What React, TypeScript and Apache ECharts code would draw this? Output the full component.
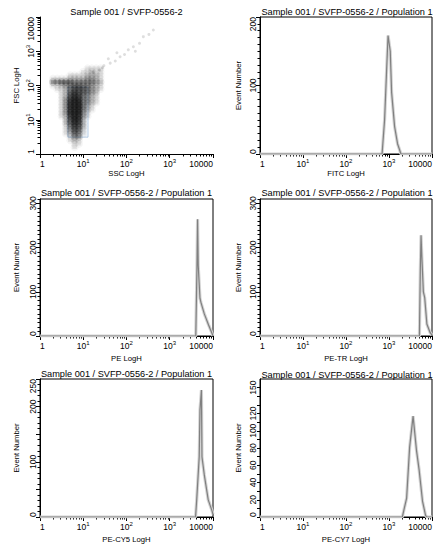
import React, { useEffect, useRef } from 'react';
import * as echarts from 'echarts';

const FONT = "'Liberation Sans', Arial, Helvetica, sans-serif";

const titles = [
  'Sample 001 / SVFP-0556-2',
  'Sample 001 / SVFP-0556-2 / Population 1',
  'Sample 001 / SVFP-0556-2 / Population 1',
  'Sample 001 / SVFP-0556-2 / Population 1',
  'Sample 001 / SVFP-0556-2 / Population 1',
  'Sample 001 / SVFP-0556-2 / Population 1',
];
const xNames = ['SSC LogH', 'FITC LogH', 'PE LogH', 'PE-TR LogH', 'PE-CY5 LogH', 'PE-CY7 LogH'];
const yNames = ['FSC LogH', 'Event Number', 'Event Number', 'Event Number', 'Event Number', 'Event Number'];

const minorLogTicks = [
  2, 3, 4, 5, 6, 7, 8, 9,
  20, 30, 40, 50, 60, 70, 80, 90,
  200, 300, 400, 500, 600, 700, 800, 900,
  2000, 3000, 4000, 5000, 6000, 7000, 8000, 9000,
];

// Density plot (SSC vs FSC), bins in log10 units
const sscBinLog = [0.3, 0.4, 0.5, 0.6, 0.7, 0.8, 0.9, 1.0, 1.1, 1.2, 1.3, 1.4, 1.5];
const fscBinLog = [2.5, 2.4, 2.3, 2.2, 2.1, 2.0, 1.9, 1.8, 1.7, 1.6, 1.5, 1.4, 1.3, 1.2, 1.1, 1.0, 0.9, 0.8, 0.7, 0.6, 0.5, 0.4, 0.3, 0.2];
const densityRows = [
  '0000000011110',
  '0000000112110',
  '0000111122210',
  '1111222233210',
  '4455544444320',
  '1123455443210',
  '0112466543210',
  '0012576543200',
  '0012687432100',
  '0013798432100',
  '0013899432100',
  '0013899421000',
  '0013899421000',
  '0013899310000',
  '0012798310000',
  '0002698200000',
  '0002587200000',
  '0001476200000',
  '0001365100000',
  '0001254100000',
  '0000133000000',
  '0000121000000',
  '0000011000000',
  '0000010000000',
];
const tailSsc = [17, 24, 30, 42, 55, 71, 90, 144, 200, 245, 330, 417, 28, 60, 110, 160, 38];
const tailFsc = [245, 282, 380, 450, 520, 690, 800, 1350, 1700, 2670, 3100, 4170, 330, 900, 1100, 1000, 600];

// Histograms
const fitcX = [1, 690, 790, 890, 950, 1070, 1150, 1350, 1580, 1900, 10000];
const fitcY = [0, 0, 50, 130, 173, 150, 90, 40, 15, 0, 0];
const peX = [1, 4000, 4250, 4400, 4550, 5000, 5300, 6300, 7900, 9300, 10000];
const peY = [0, 0, 150, 264, 160, 85, 75, 50, 25, 8, 0];
const petrX = [1, 5100, 5350, 5560, 5800, 6300, 6760, 7600, 9000, 10000];
const petrY = [0, 0, 150, 228, 180, 100, 87, 27, 8, 2];
const cy5X = [1, 3950, 4200, 4800, 5000, 5400, 5560, 6300, 7760, 9330, 10000];
const cy5Y = [0, 0, 31, 109, 194, 230, 109, 76, 31, 13, 5];
const cy7X = [1, 2040, 2570, 3020, 3630, 4365, 5010, 6030, 7080, 7600, 10000];
const cy7Y = [0, 0, 22, 81, 117, 77, 55, 18, 2, 0, 0];

const histX = [fitcX, peX, petrX, cy5X, cy7X];
const histY = [fitcY, peY, petrY, cy5Y, cy7Y];

const yMax = [200, 310, 310, 250, 160];
const yInterval = [100, 100, 100, 50, 10];
const yLabelShown = [
  [0, 100, 200],
  [0, 100, 200, 300],
  [0, 100, 200, 300],
  [0, 100, 200, 250],
  [0, 20, 40, 60, 80, 100, 120, 150],
];

const grids = [
  { left: 40, top: 17, width: 173, height: 137 },
  { left: 260, top: 17, width: 174, height: 137 },
  { left: 40, top: 199, width: 173, height: 137 },
  { left: 260, top: 199, width: 174, height: 137 },
  { left: 40, top: 379, width: 173, height: 138 },
  { left: 260, top: 379, width: 174, height: 138 },
];
const titlePos = [
  [126.5, 7], [347, 7.5], [126.5, 188.5], [347, 188.5], [126.5, 369.5], [347, 370.5],
];

const supRich = {
  s: { fontSize: 6, lineHeight: 7, verticalAlign: 'top', fontFamily: FONT, color: '#000' },
};
function logFmt(v: number) {
  if (v <= 1.0001) return '1';
  if (v >= 9999) return '10000';
  return '10{s|' + Math.round(Math.log10(v)) + '}';
}

const nameStyle = { fontSize: 7.7, color: '#000', fontFamily: FONT };

function logAxisPair(i: number, isX: boolean) {
  const main: any = {
    type: 'log',
    logBase: 10,
    gridIndex: i,
    min: 1,
    max: 10000,
    name: isX ? xNames[i] : yNames[i],
    nameLocation: 'middle',
    nameGap: isX ? (i < 2 ? 15.5 : 18) : 20,
    nameMoveOverlap: false,
    nameTextStyle: nameStyle,
    axisLine: { show: true, lineStyle: { color: '#000', width: 1 } },
    axisTick: { show: true, inside: false, length: 4, lineStyle: { color: '#000' } },
    axisLabel: {
      formatter: logFmt,
      margin: isX ? 4 : 3,
      rotate: isX ? 0 : 90,
      fontSize: 8.5,
      lineHeight: 12,
      color: '#000',
      fontFamily: FONT,
      rich: supRich,
      alignMaxLabel: 'right',
      alignMinLabel: 'left',
      showMaxLabel: true,
      showMinLabel: true,
      hideOverlap: false,
    },
    splitLine: { show: false },
  };
  const minor: any = {
    type: 'log',
    logBase: 10,
    gridIndex: i,
    min: 1,
    max: 10000,
    axisLine: { show: false },
    axisTick: { show: true, inside: false, length: 2.5, customValues: minorLogTicks, lineStyle: { color: '#000' } },
    axisLabel: { show: false },
    splitLine: { show: false },
  };
  main.position = isX ? 'bottom' : 'left';
  minor.position = isX ? 'bottom' : 'left';
  return [main, minor];
}

function valueAxisPair(i: number) {
  const h = i - 1;
  const shown = yLabelShown[h];
  const maxIsLabel = h === 0 || h === 3;
  const main: any = {
    type: 'value',
    gridIndex: i,
    position: 'left',
    min: 0,
    max: yMax[h],
    interval: yInterval[h],
    name: yNames[i],
    nameLocation: 'middle',
    nameGap: i % 2 === 1 ? 17.5 : 20,
    nameMoveOverlap: false,
    nameTextStyle: nameStyle,
    axisLine: { show: true, lineStyle: { color: '#000', width: 1 } },
    axisTick: { show: true, inside: false, length: h === 4 ? 3 : 4, lineStyle: { color: '#000' } },
    axisLabel: {
      interval: 0,
      formatter: (v: number) => {
        const r = Math.round(v);
        return shown.indexOf(r) >= 0 ? String(r) : '';
      },
      margin: 3,
      rotate: 90,
      fontSize: 8.5,
      color: '#000',
      fontFamily: FONT,
      alignMinLabel: 'left',
      alignMaxLabel: maxIsLabel ? 'right' : undefined,
      showMaxLabel: maxIsLabel,
      showMinLabel: true,
      hideOverlap: false,
    },
    splitLine: { show: false },
  };
  const minor: any = {
    type: 'value',
    gridIndex: i,
    position: 'left',
    min: 0,
    max: yMax[h],
    interval: 10,
    axisLine: { show: false },
    axisTick: { show: h !== 4, inside: false, length: 2.5, lineStyle: { color: '#000' } },
    axisLabel: { show: false },
    splitLine: { show: false },
  };
  return [main, minor];
}

function buildOption() {
  const xAxis: any[] = [];
  const yAxis: any[] = [];
  for (let i = 0; i < 6; i++) {
    xAxis.push(...logAxisPair(i, true));
    if (i === 0) yAxis.push(...logAxisPair(0, false));
    else yAxis.push(...valueAxisPair(i));
  }

  const rectData: any[] = [];
  const blurData: any[] = [];
  densityRows.forEach((row, r) => {
    for (let c = 0; c < row.length; c++) {
      const d = Number(row[c]);
      if (d > 0) {
        const value = [Math.pow(10, sscBinLog[c]), Math.pow(10, fscBinLog[r])];
        rectData.push({ value, itemStyle: { opacity: Math.min(1, d * 0.075) } });
        blurData.push({ value, itemStyle: { opacity: Math.min(1, d * 0.04) } });
      }
    }
  });
  const tailData = tailSsc.map((s, k) => [s, tailFsc[k]]);

  const series: any[] = [
    {
      type: 'scatter',
      xAxisIndex: 0,
      yAxisIndex: 0,
      symbol: 'circle',
      symbolSize: 8,
      itemStyle: { color: '#111', borderWidth: 0 },
      data: blurData,
      silent: true,
      markArea: {
        silent: true,
        itemStyle: { color: 'rgba(150,185,225,0.10)', borderColor: 'rgba(140,175,215,0.6)', borderWidth: 1 },
        data: [[{ coord: [4.4, 3.1] }, { coord: [12.9, 90] }]],
      },
    },
    {
      type: 'scatter',
      xAxisIndex: 0,
      yAxisIndex: 0,
      symbol: 'rect',
      symbolSize: [4.6, 3.7],
      itemStyle: { color: '#111', borderWidth: 0 },
      data: rectData,
      silent: true,
    },
    {
      type: 'scatter',
      xAxisIndex: 0,
      yAxisIndex: 0,
      symbol: 'circle',
      symbolSize: 3,
      itemStyle: { color: '#000', opacity: 0.13, borderWidth: 0 },
      data: tailData,
      silent: true,
    },
  ];
  for (let h = 0; h < 5; h++) {
    const i = h + 1;
    const data = histX[h].map((v, k) => [v, histY[h][k]]);
    series.push({
      type: 'line',
      xAxisIndex: 2 * i,
      yAxisIndex: 2 * i,
      data,
      showSymbol: false,
      lineStyle: { color: '#d4d4d4', width: 3.2 },
      silent: true,
    });
    series.push({
      type: 'line',
      xAxisIndex: 2 * i,
      yAxisIndex: 2 * i,
      data,
      showSymbol: false,
      lineStyle: { color: '#808080', width: 1.2 },
      silent: true,
    });
  }

  return {
    animation: false,
    backgroundColor: '#fff',
    title: titles.map((t, i) => ({
      text: t,
      left: titlePos[i][0],
      top: titlePos[i][1],
      textAlign: 'center',
      padding: 0,
      textStyle: { fontSize: 9.2, fontWeight: 'normal', color: '#000', fontFamily: FONT },
    })),
    grid: grids.map((g, i) => ({
      ...g,
      show: i > 0,
      borderColor: '#000',
      borderWidth: 1,
      backgroundColor: 'transparent',
      containLabel: false,
    })),
    xAxis,
    yAxis,
    series,
  };
}

export default function App() {
  const ref = useRef<HTMLDivElement>(null);
  useEffect(() => {
    if (!ref.current) return;
    const chart = echarts.init(ref.current, undefined, { renderer: 'svg' });
    chart.setOption(buildOption() as any);
    return () => chart.dispose();
  }, []);
  return (
    <div
      ref={ref}
      style={{ position: 'fixed', left: 0, top: 0, width: 435, height: 546, background: '#fff' }}
    />
  );
}
